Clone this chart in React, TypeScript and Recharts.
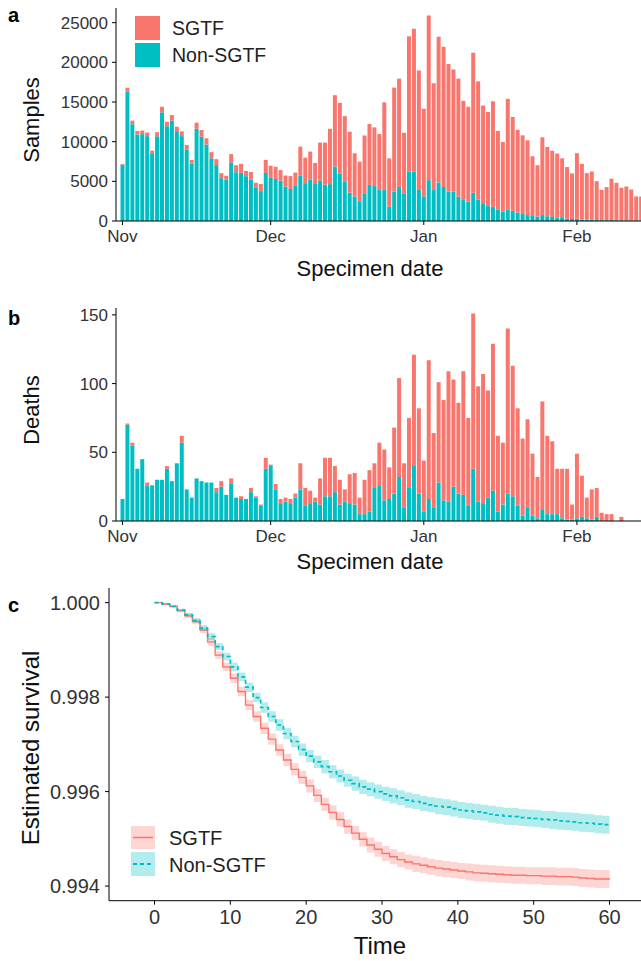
import React from 'react';
import { BarChart, Bar, XAxis, YAxis, ComposedChart, Area, Line } from 'recharts';

const FONT = '"Liberation Sans", Arial, sans-serif';
const PINK = '#F8766D';
const TEAL = '#00BFC4';
const TICK = { fontSize: 17, fill: '#333', fontFamily: FONT };

// specimen dates 1 Nov 2020 - 14 Feb 2021
const months: [string, number][] = [['Nov', 30], ['Dec', 31], ['Jan', 31], ['Feb', 14]];
const days: string[] = [];
months.forEach(([m, n]) => {
  for (let i = 1; i <= n; i++) days.push(`${m} ${i}`);
});
const monthTicks = ['Nov 1', 'Dec 1', 'Jan 1', 'Feb 1'];

// panel a: samples per day
const samplesTotal = [
  7200, 16800, 12650, 11350, 11400, 11150, 8870, 11200, 14400, 12500, 13350, 11880, 11300, 9580, 7700,
  12400, 11470, 10420, 8680, 7800, 6030, 5700, 8430, 7030, 7200, 6300, 6180, 4810, 4670, 7700,
  6970, 6840, 6420, 5730, 5660, 6100, 9380, 7980, 8750, 7320, 9880, 9880, 11620, 15860, 14900,
  13220, 11260, 8540, 7490, 10780, 12220, 11800, 10960, 14960, 7900, 16820, 17950, 11120, 23300, 24230, 18970,
  14150, 25900, 17360, 23240, 21980, 19800, 19100, 17950, 15150, 14400, 21200, 17600, 14550, 13750, 15100,
  11350, 9960, 15400, 13100, 11500, 10800, 10170, 8160, 7030, 10550, 9340, 8850, 8500, 7900, 6800, 6000,
  8550, 7200, 6030, 6240, 5020, 3930, 4270, 5330, 4810, 4200, 4350, 3970, 3100, 3100,
];
const samplesNonSgtf = [
  7100, 16300, 12200, 10900, 10950, 10700, 8450, 10680, 13700, 11950, 12650, 11330, 10700, 9030, 7240,
  11620, 10620, 9630, 7900, 7050, 5400, 5200, 7380, 6150, 6070, 5650, 5230, 4180, 3770, 6050,
  5440, 5290, 5100, 4350, 4040, 4500, 5700, 4770, 5190, 4770, 5080, 4560, 4650, 6860, 6000,
  5000, 3560, 3100, 2400, 3500, 4550, 4400, 3900, 3900, 1800, 3720, 4300, 3420, 6200, 6200, 4000,
  3100, 5150, 4000, 4850, 4300, 3680, 3680, 3060, 2640, 2430, 3560, 2720, 2140, 1880, 1800,
  1470, 1170, 1470, 1300, 1050, 880, 750, 630, 540, 750, 600, 500, 420, 380, 300, 250,
  280, 200, 180, 150, 120, 100, 100, 120, 80, 80, 70, 60, 50, 50,
];
const samplesTicks = [0, 5000, 10000, 15000, 20000, 25000];

// panel b: deaths by specimen date
const deathsTotal = [
  16, 71, 57, 38, 45, 28, 26, 30, 30, 40, 29, 42, 62, 23, 17, 31, 29, 28, 28, 24, 29, 19, 31, 17, 18, 16, 24, 18, 12, 46,
  41, 27, 16, 17, 16, 20, 42, 24, 22, 17, 31, 46, 46, 40, 30, 23, 34, 35, 17, 30, 37, 42, 57, 52, 39, 68, 104, 42, 75, 121, 82,
  44, 117, 64, 101, 88, 109, 103, 86, 109, 75, 151, 98, 107, 95, 129, 62, 57, 140, 113, 82, 60, 74, 49, 32, 87, 62, 58, 38, 38, 38, 12,
  49, 33, 17, 23, 24, 6, 5, 5, 0, 3, 0, 0, 0, 0,
];
const deathsNonSgtf = [
  16, 70, 55, 38, 45, 26, 26, 30, 30, 38, 29, 42, 57, 23, 17, 31, 29, 28, 28, 21, 25, 19, 27, 17, 16, 16, 21, 17, 11, 38,
  40, 23, 13, 14, 13, 17, 23, 11, 13, 14, 12, 18, 18, 21, 12, 14, 13, 12, 5, 5, 7, 24, 26, 15, 16, 20, 32, 10, 24, 40, 20,
  7, 16, 10, 28, 15, 14, 25, 20, 19, 11, 38, 14, 13, 17, 22, 7, 12, 20, 18, 11, 4, 10, 4, 2, 8, 5, 5, 5, 2, 1, 1,
  2, 3, 2, 1, 3, 0, 0, 0, 0, 0, 0, 0, 0, 0,
];
const deathsTicks = [0, 50, 100, 150];

// panel c: Kaplan-Meier survival, days 0..60
const timeDays = Array.from({ length: 61 }, (_, i) => i);
const survSgtf = [
  1.0, 0.99997, 0.99992, 0.99983, 0.99972, 0.9996, 0.99942, 0.99917, 0.99889, 0.99864, 0.9984,
  0.99812, 0.99783, 0.99759, 0.99734, 0.99711, 0.99688, 0.99667, 0.99647, 0.9963, 0.99612,
  0.99592, 0.99573, 0.99556, 0.99541, 0.99526, 0.99512, 0.99499, 0.99487, 0.99478, 0.99469,
  0.99462, 0.99456, 0.99451, 0.99447, 0.99444, 0.99441, 0.99438, 0.99436, 0.99434, 0.99432,
  0.9943, 0.99428, 0.99427, 0.99426, 0.99425, 0.99424, 0.99423, 0.99423, 0.99422, 0.99422,
  0.99421, 0.99421, 0.9942, 0.9942, 0.99419, 0.99417, 0.99416, 0.99415, 0.99415, 0.99414,
];
const survNonSgtf = [
  1.0, 0.99997, 0.99992, 0.99984, 0.99974, 0.99962, 0.99946, 0.99928, 0.99907, 0.99886, 0.99864,
  0.99843, 0.99821, 0.99799, 0.99778, 0.99759, 0.99741, 0.99723, 0.99706, 0.99689, 0.99675,
  0.99663, 0.99653, 0.99642, 0.99633, 0.99624, 0.99617, 0.9961, 0.99605, 0.996, 0.99595,
  0.99591, 0.99587, 0.99582, 0.99579, 0.99575, 0.99572, 0.99569, 0.99567, 0.99564, 0.99561,
  0.99559, 0.99557, 0.99555, 0.99552, 0.9955, 0.99548, 0.99547, 0.99545, 0.99544, 0.99543,
  0.99541, 0.9954, 0.99538, 0.99537, 0.99536, 0.99534, 0.99533, 0.99531, 0.9953, 0.99529,
];
// half width of the 95% band
const ciSgtf = [
  0, 0.00001, 0.00003, 0.00004, 0.00005, 0.00006, 0.00007, 0.00008, 0.00008, 0.00009, 0.0001,
  0.0001, 0.00011, 0.00011, 0.00012, 0.00012, 0.00012, 0.00013, 0.00013, 0.00014, 0.00014,
  0.00014, 0.00014, 0.00015, 0.00015, 0.00015, 0.00015, 0.00015, 0.00016, 0.00016, 0.00016,
  0.00016, 0.00016, 0.00016, 0.00017, 0.00017, 0.00017, 0.00017, 0.00017, 0.00017, 0.00017,
  0.00018, 0.00018, 0.00018, 0.00018, 0.00018, 0.00018, 0.00018, 0.00018, 0.00018, 0.00018,
  0.00019, 0.00019, 0.00019, 0.00019, 0.00019, 0.00019, 0.00019, 0.00019, 0.00019, 0.00019,
];
const ciNonSgtf = [
  0, 0.00001, 0.00002, 0.00003, 0.00004, 0.00005, 0.00006, 0.00007, 0.00007, 0.00008, 0.00009,
  0.00009, 0.0001, 0.0001, 0.00011, 0.00011, 0.00012, 0.00012, 0.00012, 0.00013, 0.00013,
  0.00013, 0.00014, 0.00014, 0.00014, 0.00014, 0.00015, 0.00015, 0.00015, 0.00015, 0.00015,
  0.00016, 0.00016, 0.00016, 0.00016, 0.00016, 0.00016, 0.00017, 0.00017, 0.00017, 0.00017,
  0.00017, 0.00017, 0.00017, 0.00018, 0.00018, 0.00018, 0.00018, 0.00018, 0.00018, 0.00018,
  0.00018, 0.00019, 0.00019, 0.00019, 0.00019, 0.00019, 0.00019, 0.00019, 0.00019, 0.00019,
];
const survTicks = [0.994, 0.996, 0.998, 1.0];
const timeTicks = [0, 10, 20, 30, 40, 50, 60];

const samplesData = days.map((day, i) => ({
  day,
  non: samplesNonSgtf[i],
  sgtf: samplesTotal[i] - samplesNonSgtf[i],
}));
const deathsData = days.map((day, i) => ({
  day,
  non: deathsNonSgtf[i],
  sgtf: deathsTotal[i] - deathsNonSgtf[i],
}));
const survData = timeDays.map((t, i) => ({
  t,
  sgtf: survSgtf[i],
  non: survNonSgtf[i],
  sgtfBand: [survSgtf[i] - ciSgtf[i], survSgtf[i] + ciSgtf[i]],
  nonBand: [survNonSgtf[i] - ciNonSgtf[i], survNonSgtf[i] + ciNonSgtf[i]],
}));

const axisLine = { stroke: '#000', strokeWidth: 1 };
const tickLine = { stroke: '#000', strokeWidth: 1 };

const DateBars = ({ data, max, ticks, top }: any) => (
  <div style={{ position: 'absolute', left: 0, top }}>
    <BarChart
      width={660}
      height={260}
      data={data}
      margin={{ top: 8, right: 16.4, bottom: 0, left: 0 }}
      barCategoryGap="10%"
    >
      <XAxis
        dataKey="day"
        ticks={monthTicks}
        interval={0}
        tickFormatter={(v: string) => v.split(' ')[0]}
        height={39}
        tickSize={4}
        tickMargin={5}
        padding={{ left: 4, right: 0 }}
        axisLine={axisLine}
        tickLine={tickLine}
        tick={TICK}
      />
      <YAxis
        domain={[0, max]}
        ticks={ticks}
        interval={0}
        width={116}
        tickSize={4}
        tickMargin={4}
        axisLine={axisLine}
        tickLine={tickLine}
        tick={TICK}
        allowDataOverflow
      />
      <Bar dataKey="non" stackId="s" fill={TEAL} isAnimationActive={false} />
      <Bar dataKey="sgtf" stackId="s" fill={PINK} isAnimationActive={false} />
    </BarChart>
  </div>
);

const Survival = () => (
  <div style={{ position: 'absolute', left: 0, top: 580 }}>
    <ComposedChart
      width={660}
      height={381}
      data={survData}
      margin={{ top: 8, right: 5, bottom: 0, left: 0 }}
    >
      <XAxis
        dataKey="t"
        type="number"
        domain={[-6, 66]}
        ticks={timeTicks}
        interval={0}
        height={60.3}
        tickSize={4}
        tickMargin={5}
        axisLine={axisLine}
        tickLine={tickLine}
        tick={{ ...TICK, fontSize: 20 }}
        allowDataOverflow
      />
      <YAxis
        domain={[0.99369, 1.00031]}
        ticks={survTicks}
        interval={0}
        width={109}
        tickSize={4}
        tickMargin={5}
        tickFormatter={(v: number) => v.toFixed(3)}
        axisLine={axisLine}
        tickLine={tickLine}
        tick={{ ...TICK, fontSize: 20 }}
        allowDataOverflow
      />
      <Area dataKey="sgtfBand" type="stepAfter" fill={PINK} fillOpacity={0.3} stroke="none" isAnimationActive={false} />
      <Area dataKey="nonBand" type="stepAfter" fill={TEAL} fillOpacity={0.3} stroke="none" isAnimationActive={false} />
      <Line dataKey="sgtf" type="stepAfter" stroke={PINK} strokeWidth={1.4} dot={false} isAnimationActive={false} />
      <Line dataKey="non" type="stepAfter" stroke={TEAL} strokeWidth={1.7} strokeDasharray="4 3" dot={false} isAnimationActive={false} />
    </ComposedChart>
  </div>
);

const Overlay = () => (
  <svg width={641} height={961} style={{ position: 'absolute', left: 0, top: 0, pointerEvents: 'none' }} fontFamily={FONT}>
    <text x={8} y={22} fontSize={20} fontWeight="bold" fill="#000">a</text>
    <text x={8} y={325} fontSize={20} fontWeight="bold" fill="#000">b</text>
    <text x={8} y={612} fontSize={20} fontWeight="bold" fill="#000">c</text>

    {/* panel a legend */}
    <rect x={135} y={16} width={25} height={24} fill={PINK} />
    <rect x={135} y={43} width={25} height={24} fill={TEAL} />
    <text x={172} y={35} fontSize={19.5} fill="#222">SGTF</text>
    <text x={172} y={62} fontSize={19.5} fill="#222">Non-SGTF</text>

    {/* axis titles */}
    <text x={31} y={120} fontSize={22} fill="#111" textAnchor="middle" transform="rotate(-90 31 120)" dominantBaseline="central">Samples</text>
    <text x={370} y={268} fontSize={22} fill="#111" textAnchor="middle" dominantBaseline="central">Specimen date</text>
    <text x={31} y={410} fontSize={22} fill="#111" textAnchor="middle" transform="rotate(-90 31 410)" dominantBaseline="central">Deaths</text>
    <text x={370} y={561} fontSize={22} fill="#111" textAnchor="middle" dominantBaseline="central">Specimen date</text>
    <text x={30} y={748} fontSize={24} fill="#111" textAnchor="middle" transform="rotate(-90 30 748)" dominantBaseline="central">Estimated survival</text>
    <text x={380} y={945} fontSize={24} fill="#111" textAnchor="middle" dominantBaseline="central">Time</text>

    {/* panel c legend */}
    <rect x={131} y={826} width={24} height={23} fill={PINK} fillOpacity={0.3} />
    <line x1={133} x2={153} y1={837.5} y2={837.5} stroke={PINK} strokeWidth={1.5} />
    <rect x={131} y={852} width={24} height={24} fill={TEAL} fillOpacity={0.3} />
    <line x1={133} x2={153} y1={864} y2={864} stroke={TEAL} strokeWidth={1.8} strokeDasharray="4 3" />
    <text x={169} y={845} fontSize={20} fill="#222">SGTF</text>
    <text x={169} y={872} fontSize={20} fill="#222">Non-SGTF</text>
  </svg>
);

export default function App() {
  return (
    <div
      style={{
        position: 'absolute',
        left: 0,
        top: 0,
        width: 641,
        height: 961,
        overflow: 'hidden',
        background: '#fff',
        fontFamily: FONT,
      }}
    >
      <DateBars data={samplesData} max={26850} ticks={samplesTicks} top={0} />
      <DateBars data={deathsData} max={155} ticks={deathsTicks} top={300} />
      <Survival />
      <Overlay />
    </div>
  );
}
